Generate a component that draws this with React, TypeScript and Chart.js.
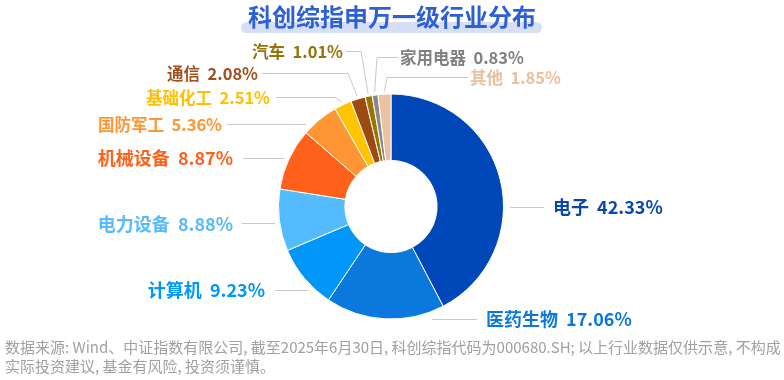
import React, { useEffect, useRef } from 'react';
import { Chart, registerables } from 'chart.js';

Chart.register(...registerables);

// ---- data ----
const categories = ['电子', '医药生物', '计算机', '电力设备', '机械设备', '国防军工', '基础化工', '通信', '汽车', '家用电器', '其他'];
const shares = [42.33, 17.06, 9.23, 8.88, 8.87, 5.36, 2.51, 2.08, 1.01, 0.83, 1.85];

// ---- styles ----
const sliceColors = ['#0047BA', '#0A78DD', '#0096FA', '#55BBFF', '#FF611A', '#FF9633', '#FFC300', '#9C4A10', '#9A7300', '#888888', '#ECC3A2'];
const labelColors = ['#0A46B2', '#0A78DC', '#0096FA', '#55BBFF', '#FF611A', '#FF9633', '#FFC000', '#A0501E', '#96730A', '#808080', '#EBBF9C'];

const TITLE = '科创综指申万一级行业分布';
const FOOTER_1 = '数据来源: Wind、中证指数有限公司, 截至2025年6月30日, 科创综指代码为000680.SH; 以上行业数据仅供示意, 不构成';
const FOOTER_2 = '实际投资建议, 基金有风险, 投资须谨慎。';

const FONT = '"Noto Sans CJK SC", "Noto Sans", sans-serif';

// label layout, relative to the doughnut centre: text inner edge (tx), text centre (ty),
// gap between text and leader, horizontal leader length, bend to slice, font size
const labelLayout = [
  { tx: 162, ty: 0, gap: 9, len: 34, bend: false, size: 18 },
  { tx: 95, ty: 112, gap: 9, len: 45, bend: false, size: 18 },
  { tx: -126, ty: 83, gap: 10, len: 33, bend: false, size: 18 },
  { tx: -158, ty: 16.5, gap: 9, len: 33, bend: false, size: 18 },
  { tx: -158, ty: -49, gap: 10, len: 42, bend: false, size: 18 },
  { tx: -169, ty: -83, gap: 5, len: 79, bend: false, size: 16.5 },
  { tx: -121, ty: -110, gap: 6, len: 60, bend: true, size: 16.5 },
  { tx: -133, ty: -134, gap: 4, len: 86, bend: true, size: 16.5 },
  { tx: -48, ty: -156, gap: 3, len: 15, bend: true, size: 16.5 },
  { tx: 9, ty: -149.5, gap: 2, len: 21, bend: true, size: 16.5 },
  { tx: 79, ty: -130, gap: 2, len: 81, bend: true, size: 16.5 },
];

const sliceLabelPlugin = {
  id: 'sliceLabels',
  afterDatasetsDraw(chart: any) {
    const ctx: CanvasRenderingContext2D = chart.ctx;
    const meta = chart.getDatasetMeta(0);
    meta.data.forEach((arc: any, i: number) => {
      const p = arc.getProps(['x', 'y', 'startAngle', 'endAngle', 'outerRadius'], true);
      const L = labelLayout[i];
      const right = L.tx >= 0;
      const dir = right ? 1 : -1;
      const ty = p.y + L.ty;
      const textEdge = p.x + L.tx;
      const lineOuter = textEdge - dir * L.gap;
      const lineInner = lineOuter - dir * L.len;

      ctx.save();
      ctx.strokeStyle = '#C9C9C9';
      ctx.lineWidth = 1;
      ctx.beginPath();
      ctx.moveTo(lineOuter, Math.round(ty) + 0.5);
      ctx.lineTo(lineInner, Math.round(ty) + 0.5);
      if (L.bend) {
        const mid = (p.startAngle + p.endAngle) / 2;
        const r = p.outerRadius + 3;
        ctx.lineTo(p.x + Math.cos(mid) * r, p.y + Math.sin(mid) * r);
      }
      ctx.stroke();

      const name = categories[i];
      const value = shares[i].toFixed(2) + '%';
      ctx.font = `bold ${L.size}px ${FONT}`;
      ctx.fillStyle = labelColors[i];
      ctx.textBaseline = 'middle';
      ctx.textAlign = 'left';
      const wName = ctx.measureText(name).width;
      const wVal = ctx.measureText(value).width;
      const gapNV = L.size * 0.45;
      const total = wName + gapNV + wVal;
      const x0 = right ? textEdge : textEdge - total;
      ctx.fillText(name, x0, ty + 1);
      ctx.fillText(value, x0 + wName + gapNV, ty + 1);
      ctx.restore();
    });
  },
};

export default function App() {
  const canvasRef = useRef<HTMLCanvasElement | null>(null);

  useEffect(() => {
    const canvas = canvasRef.current;
    if (!canvas) return;
    const chart = new Chart(canvas, {
      type: 'doughnut',
      data: {
        labels: categories,
        datasets: [
          {
            data: shares,
            backgroundColor: sliceColors,
            borderColor: '#FFFFFF',
            borderWidth: 1,
          },
        ],
      },
      options: {
        responsive: false,
        animation: false,
        devicePixelRatio: 1,
        cutout: '41%',
        layout: { padding: { left: 278, right: 280, top: 93.5, bottom: 60.5 } },
        plugins: {
          legend: { display: false },
          tooltip: { enabled: false },
          title: { display: false },
        },
      },
      plugins: [sliceLabelPlugin],
    });
    return () => chart.destroy();
  }, []);

  return (
    <div style={{ position: 'fixed', left: 0, top: 0, width: 784, height: 380, background: '#FFFFFF', overflow: 'hidden' }}>
      <canvas ref={canvasRef} width={784} height={380} style={{ position: 'absolute', left: 0, top: 0, width: 784, height: 380 }} />
      <div style={{ position: 'absolute', left: 241, top: 22, width: 301, height: 11, borderRadius: 6, background: '#D6DFF6' }} />
      <div
        style={{
          position: 'absolute',
          left: 0,
          top: 0,
          width: 784,
          textAlign: 'center',
          fontFamily: FONT,
          fontWeight: 'bold',
          fontSize: 24,
          lineHeight: '32px',
          color: '#2D5FD6',
          whiteSpace: 'nowrap',
        }}
      >
        {TITLE}
      </div>
      <div
        style={{
          position: 'absolute',
          left: 5,
          top: 337,
          fontFamily: FONT,
          fontSize: 15,
          lineHeight: '19px',
          color: '#A0A0A0',
          whiteSpace: 'nowrap',
        }}
      >
        <div>{FOOTER_1}</div>
        <div>{FOOTER_2}</div>
      </div>
    </div>
  );
}
